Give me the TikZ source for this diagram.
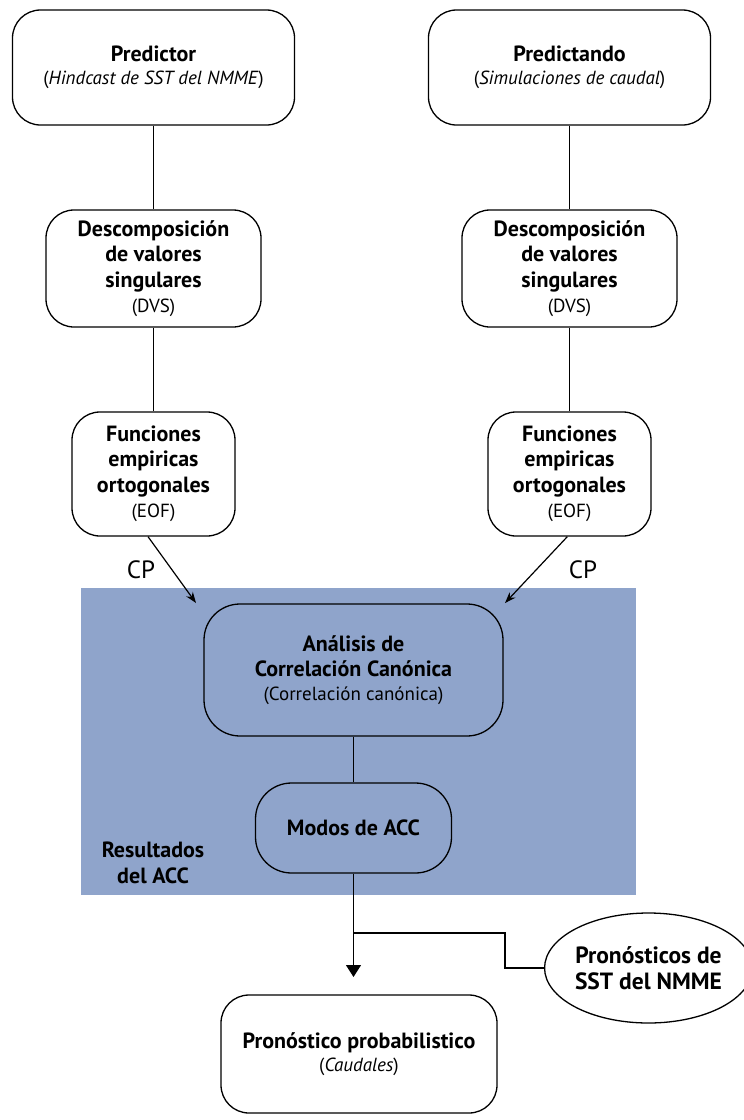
\documentclass[tikz,border=0pt]{standalone}
\usepackage{fontspec}
\setmainfont{PT Sans}
\usetikzlibrary{shapes.geometric,arrows.meta,calc}
\definecolor{accblue}{HTML}{8FA4CB}
\newcommand{\mysub}{\fontsize{19}{25.5}\selectfont\mdseries}
\begin{document}
\begin{tikzpicture}[x=1pt,y=-1pt,
  box/.style={draw, line width=1.3pt, rounded corners=28pt, align=center, inner sep=0pt,
     font=\fontsize{22}{25.5}\selectfont\bfseries},
  conn/.style={line width=1.2pt},
  cparrow/.style={line width=1.2pt, -{Stealth[length=11pt,width=8pt]}},
  lbl/.style={font=\fontsize{25}{28}\selectfont, inner sep=0pt},
  every node/.style={text=black}]
\useasboundingbox (0,0) rectangle (744,1120);
\fill[accblue] (81,588) rectangle (636,895);
% nodes
\node[box, minimum width=282pt, minimum height=115pt] (pred) at (153.5,67.5)
  {Predictor\\[-3pt]{\mysub(\textit{Hindcast de SST del NMME})}};
\node[box, minimum width=282pt, minimum height=115pt] (predt) at (569.5,67.5)
  {Predictando\\[-3pt]{\mysub(\textit{Simulaciones de caudal})}};
\node[box, minimum width=215pt, minimum height=117pt] (dvs1) at (153.5,268.5)
  {Descomposición\\de valores\\singulares\\{\mysub(DVS)}};
\node[box, minimum width=215pt, minimum height=117pt] (dvs2) at (569.5,268.5)
  {Descomposición\\de valores\\singulares\\{\mysub(DVS)}};
\node[box, minimum width=163pt, minimum height=124pt] (eof1) at (153.5,474)
  {Funciones\\empiricas\\ortogonales\\{\mysub(EOF)}};
\node[box, minimum width=163pt, minimum height=124pt] (eof2) at (569.5,474)
  {Funciones\\empiricas\\ortogonales\\{\mysub(EOF)}};
\node[box, rounded corners=36pt, minimum width=299pt, minimum height=132pt] (acc) at (353.5,670)
  {Análisis de\\Correlación Canónica\\[-2pt]{\mysub(Correlación canónica)}};
\node[box, rounded corners=36pt, minimum width=196pt, minimum height=90pt] (modos) at (353.5,828)
  {Modos de ACC};
\node[font=\fontsize{22}{25.5}\selectfont\bfseries, align=center, inner sep=0pt] (res) at (153,863)
  {Resultados\\del ACC};
\node[box, minimum width=276pt, minimum height=118pt] (prob) at (359,1054)
  {Pronóstico probabilistico\\[-3pt]{\mysub(\textit{Caudales})}};
\node[draw, ellipse, line width=1.3pt, minimum width=189pt, minimum height=110pt, inner sep=0pt,
  align=center, font=\fontsize{23.5}{26}\selectfont\bfseries] (nmme) at (648.5,968)
  {Pronósticos de\\SST del NMME};
% connectors
\draw[conn] (pred.south) -- (dvs1.north);
\draw[conn] (dvs1.south) -- (eof1.north);
\draw[conn] (predt.south) -- (dvs2.north);
\draw[conn] (dvs2.south) -- (eof2.north);
\draw[conn] (acc.south) -- (modos.north);
\coordinate (cpl) at (196,603);
\coordinate (cpr) at (505,603);
\draw[cparrow] (eof1.-95) -- (cpl);
\draw[cparrow] (eof2.-92) -- (cpr);
\node[lbl] (cpltext) at (141,570) {CP};
\node[lbl] (cprtext) at (583,570) {CP};
\coordinate (tip) at (353.5,977);
\coordinate (jn) at (353.5,933);
\draw[conn, -{Triangle[length=12pt,width=15pt]}] (modos.south) -- (tip);
\draw[conn] (jn) -- (505,933) |- (nmme.west);
\end{tikzpicture}
\end{document}
